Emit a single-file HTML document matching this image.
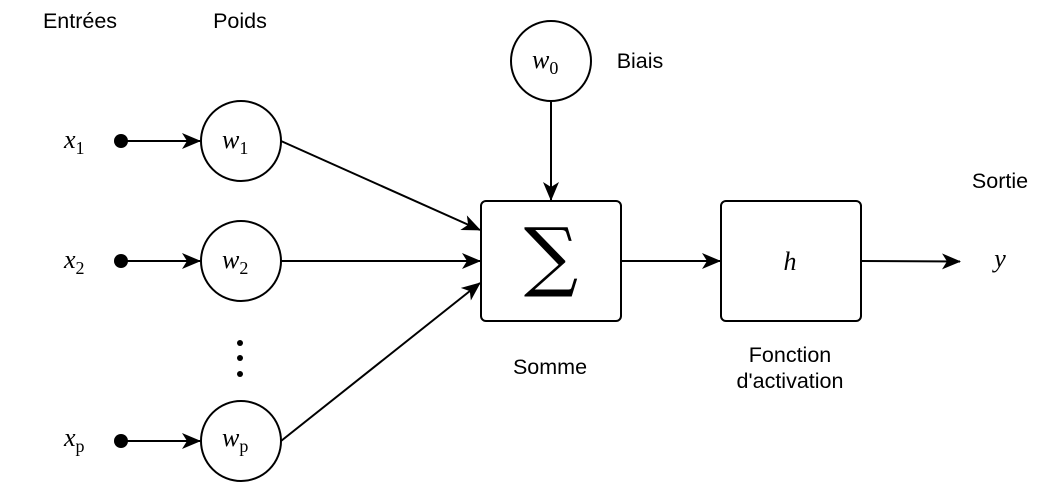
<!DOCTYPE html>
<html><head><meta charset="utf-8"><style>
html,body{margin:0;padding:0;background:#fff;}
svg{display:block}
.s{font-family:"Liberation Sans",sans-serif;font-size:21.5px;fill:#000}
.m{font-family:"Liberation Serif","DejaVu Serif",serif;font-style:italic;font-size:26px;fill:#000}
.sub{font-family:"Liberation Serif","DejaVu Serif",serif;font-style:normal;font-size:18px}
</style></head><body>
<svg width="1058" height="482" viewBox="0 0 1058 482" xmlns="http://www.w3.org/2000/svg">
<defs>
<marker id="b" markerWidth="20" markerHeight="16" refX="18" refY="8" orient="auto" markerUnits="userSpaceOnUse"><path d="M0,0 L19,8 L0,16 L5,8 z" fill="#000"/></marker></defs>
<g stroke="#000" stroke-width="2" fill="none">
<line x1="120" y1="141" x2="200" y2="141" marker-end="url(#b)"/>
<line x1="120" y1="261" x2="200" y2="261" marker-end="url(#b)"/>
<line x1="120" y1="441" x2="200" y2="441" marker-end="url(#b)"/>
<line x1="281" y1="141" x2="480" y2="230" marker-end="url(#b)"/>
<line x1="281" y1="261" x2="480" y2="261" marker-end="url(#b)"/>
<line x1="281" y1="441" x2="480" y2="283" marker-end="url(#b)"/>
<line x1="551" y1="101" x2="551" y2="200" marker-end="url(#b)"/>
<line x1="621" y1="261" x2="720" y2="261" marker-end="url(#b)"/>
<line x1="861" y1="261" x2="960" y2="261.5" marker-end="url(#b)"/>
<circle cx="241" cy="141" r="40" fill="#fff"/>
<circle cx="241" cy="261" r="40" fill="#fff"/>
<circle cx="241" cy="441" r="40" fill="#fff"/>
<circle cx="551" cy="61" r="40" fill="#fff"/>
<rect x="481" y="201" width="140" height="120" rx="5" fill="#fff"/>
<rect x="721" y="201" width="140" height="120" rx="5" fill="#fff"/>
</g>
<g fill="#000">
<circle cx="121" cy="141" r="7"/><circle cx="121" cy="261" r="7"/><circle cx="121" cy="441" r="7"/>
<circle cx="240" cy="343" r="3"/><circle cx="240" cy="358" r="3"/><circle cx="240" cy="374" r="3"/>
</g>
<text class="s" x="80" y="28" text-anchor="middle">Entrées</text>
<text class="s" x="240" y="28" text-anchor="middle">Poids</text>
<text class="s" x="640" y="68" text-anchor="middle">Biais</text>
<text class="s" x="1000" y="188" text-anchor="middle">Sortie</text>
<text class="s" x="550" y="374" text-anchor="middle">Somme</text>
<text class="s" x="790" y="362" text-anchor="middle">Fonction</text>
<text class="s" x="790" y="388" text-anchor="middle">d'activation</text>
<text class="m" x="64" y="148">x<tspan class="sub" dy="6">1</tspan></text>
<text class="m" x="64" y="268">x<tspan class="sub" dy="6">2</tspan></text>
<text class="m" x="64" y="446">x<tspan class="sub" font-style="italic" dy="6">p</tspan></text>
<text class="m" x="222" y="148">w<tspan class="sub" dy="6">1</tspan></text>
<text class="m" x="222" y="268">w<tspan class="sub" dy="6">2</tspan></text>
<text class="m" x="222" y="446">w<tspan class="sub" font-style="italic" dy="6">p</tspan></text>
<text class="m" x="532" y="68">w<tspan class="sub" dy="6">0</tspan></text>
<text class="m" x="790" y="270" text-anchor="middle" font-size="32">h</text>
<text class="m" x="1000" y="267" text-anchor="middle">y</text>
<text x="551" y="282" text-anchor="middle" font-family="'DejaVu Serif','Liberation Serif',serif" font-size="76" fill="#000">∑</text>
</svg>
</body></html>
